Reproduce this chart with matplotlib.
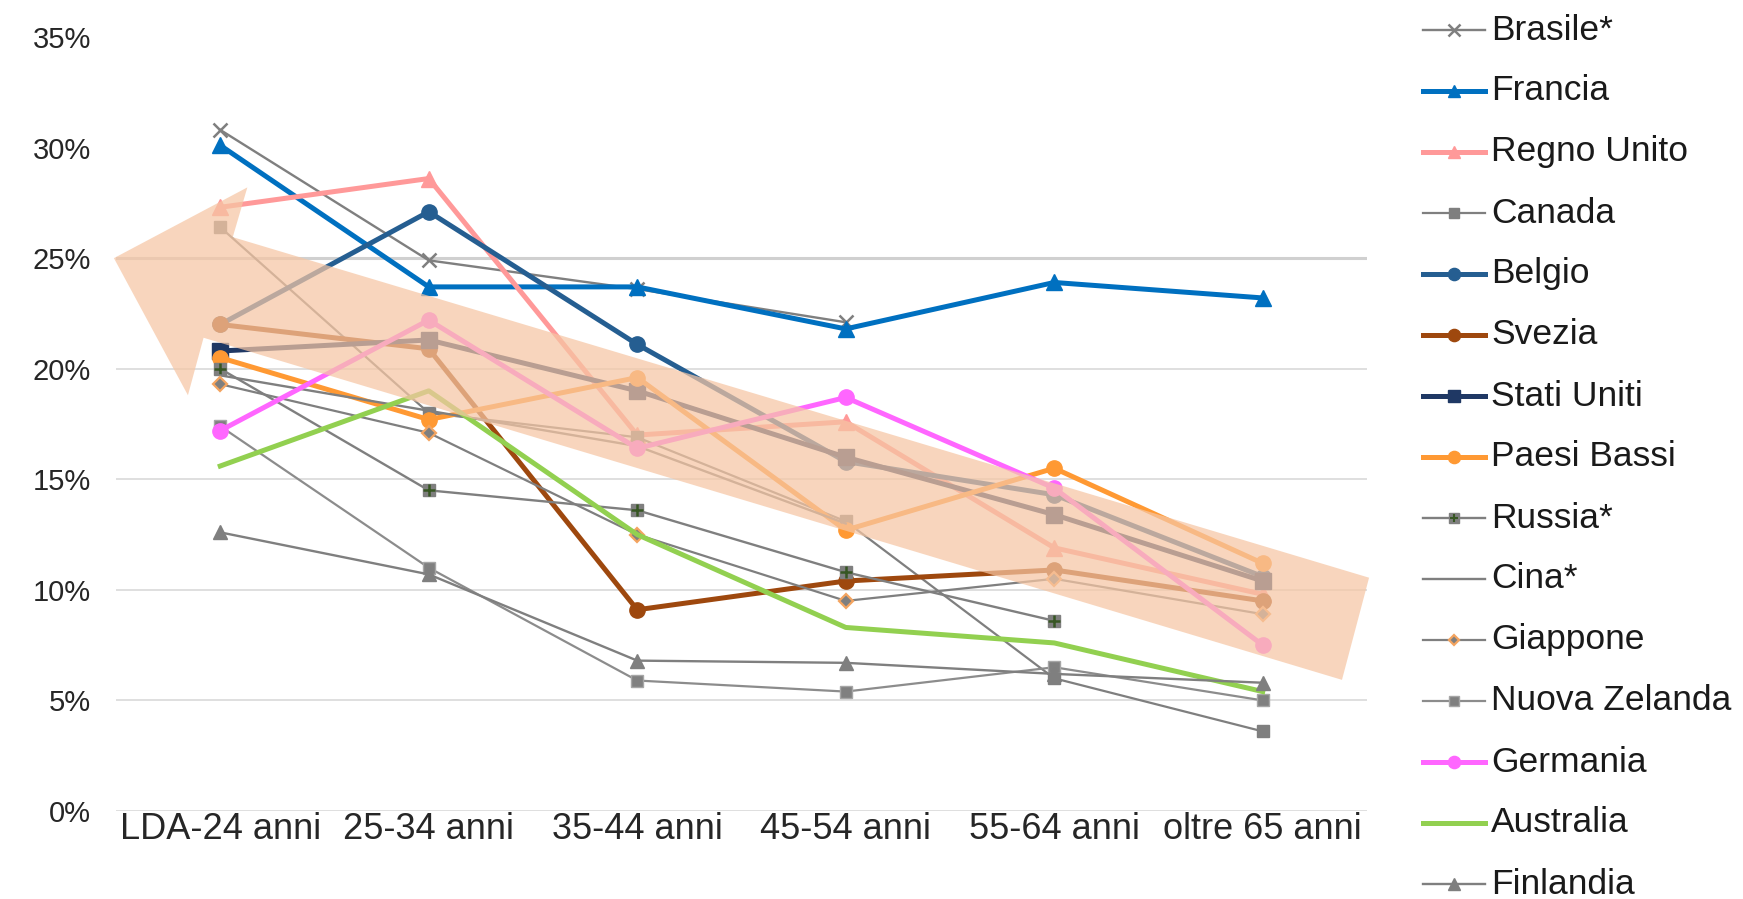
import numpy as np
import matplotlib.pyplot as plt
from matplotlib.patches import Polygon
from matplotlib.lines import Line2D

plt.rcParams['font.family'] = ['Liberation Sans', 'DejaVu Sans']

nan = np.nan

categorie = ['LDA-24 anni', '25-34 anni', '35-44 anni', '45-54 anni', '55-64 anni', 'oltre 65 anni']

# valori in %
brasile = [30.8, 24.9, 23.6, 22.1, nan, nan]
francia = [30.1, 23.7, 23.7, 21.8, 23.9, 23.2]
regno_unito = [27.3, 28.6, 17.0, 17.6, 11.9, 9.8]
canada = [26.4, 18.0, 16.9, 13.1, 6.0, 3.6]
belgio = [22.0, 27.1, 21.1, 15.8, 14.3, 10.6]
svezia = [22.0, 20.9, 9.1, 10.4, 10.9, 9.5]
stati_uniti = [20.8, 21.3, 19.0, 16.0, 13.4, 10.4]
paesi_bassi = [20.5, 17.7, 19.6, 12.7, 15.5, 11.2]
russia = [20.0, 14.5, 13.6, 10.8, 8.6, nan]
cina = [19.7, 18.1, 16.5, 13.0, nan, nan]
giappone = [19.3, 17.1, 12.5, 9.5, 10.5, 8.9]
nuova_zelanda = [17.4, 11.0, 5.9, 5.4, 6.5, 5.0]
germania = [17.2, 22.2, 16.4, 18.7, 14.6, 7.5]
australia = [15.6, 19.0, 12.5, 8.3, 7.6, 5.4]
finlandia = [12.6, 10.7, 6.8, 6.7, 6.2, 5.8]

serie = [
    ('Brasile*', brasile),
    ('Francia', francia),
    ('Regno Unito', regno_unito),
    ('Canada', canada),
    ('Belgio', belgio),
    ('Svezia', svezia),
    ('Stati Uniti', stati_uniti),
    ('Paesi Bassi', paesi_bassi),
    ('Russia*', russia),
    ('Cina*', cina),
    ('Giappone', giappone),
    ('Nuova Zelanda', nuova_zelanda),
    ('Germania', germania),
    ('Australia', australia),
    ('Finlandia', finlandia),
]

GR = '#7F7F7F'
stili = {
    'Brasile*': dict(color=GR, lw=1.7, marker='x', ms=10, mew=1.8),
    'Francia': dict(color='#0070C0', lw=3.6, marker='^', ms=11),
    'Regno Unito': dict(color='#FF9999', lw=3.6, marker='^', ms=11),
    'Canada': dict(color=GR, lw=1.6, marker='s', ms=9),
    'Belgio': dict(color='#255E91', lw=3.6, marker='o', ms=11),
    'Svezia': dict(color='#9E480E', lw=3.6, marker='o', ms=11),
    'Stati Uniti': dict(color='#1F3864', lw=3.6, marker='s', ms=11),
    'Paesi Bassi': dict(color='#FF9933', lw=3.6, marker='o', ms=11),
    'Russia*': dict(color=GR, lw=1.7, marker='s', ms=9),
    'Cina*': dict(color=GR, lw=1.7),
    'Giappone': dict(color=GR, lw=1.6, marker='D', ms=7, mfc=GR, mec='#F4A460', mew=1.6),
    'Nuova Zelanda': dict(color='#8C8C8C', lw=1.6, marker='s', ms=9, mfc='#808080', mec='#A6A6A6'),
    'Germania': dict(color='#FF66FF', lw=3.6, marker='o', ms=11),
    'Australia': dict(color='#92D050', lw=3.6),
    'Finlandia': dict(color=GR, lw=1.7, marker='^', ms=10),
}

W, H = 1743, 899
fig = plt.figure(figsize=(W / 100, H / 100), dpi=100)
ax = fig.add_axes([116 / W, 1 - 811 / H, (1367 - 116) / W, (811 - 37) / H])

x = np.arange(len(categorie))
for k, (nome, val) in enumerate(serie):
    ax.plot(x, val, zorder=3 + k, **stili[nome])
    if nome == 'Russia*':
        ax.plot(x, val, ls='none', marker='+', ms=8, mew=1.8, color='#375623', zorder=3 + k)

# griglia
for v in range(0, 30, 5):
    ax.axhline(v, color='#D0D0D0' if v == 25 else '#D9D9D9', lw=2.2 if v == 25 else 1.2, zorder=1)

# freccia di tendenza
freccia = [(-0.51, 25.0), (0.13, 28.2), (0.06, 25.95), (5.51, 10.55),
           (5.38, 5.93), (-0.08, 21.4), (-0.155, 18.8)]
ax.add_patch(Polygon(freccia, closed=True, facecolor='#F6C6A4', edgecolor='none',
                     alpha=0.72, zorder=30, clip_on=False))

ax.set_xlim(-0.5, 5.5)
ax.set_ylim(0, 35)
ax.set_xticks(x)
ax.set_xticklabels(categorie, fontsize=26, color='#262626')
ax.set_yticks(range(0, 36, 5))
ax.set_yticklabels([f'{v}%' for v in range(0, 36, 5)], fontsize=21, color='#262626')
ax.tick_params(axis='x', length=0, pad=1)
ax.tick_params(axis='y', length=0, pad=18)
for s in ax.spines.values():
    s.set_visible(False)

# legenda
x0, x1, xt = 1423 / W, 1485 / W, 1491 / W
for i, (nome, val) in enumerate(serie):
    y = 1 - (30 + 61 * i) / H
    st = dict(stili[nome])
    if 'ms' in st:
        st['ms'] = st['ms'] * 0.8
    fig.add_artist(Line2D([x0, (x0 + x1) / 2, x1], [y, y, y], transform=fig.transFigure,
                          markevery=[1], **st))
    if nome == 'Russia*':
        fig.add_artist(Line2D([(x0 + x1) / 2], [y], transform=fig.transFigure, ls='none',
                              marker='+', ms=6, mew=1.5, color='#375623'))
    fig.text(xt, y, nome, va='center', ha='left', fontsize=25.5, color='#1A1A1A')

fig.savefig('out.png', dpi=100)
